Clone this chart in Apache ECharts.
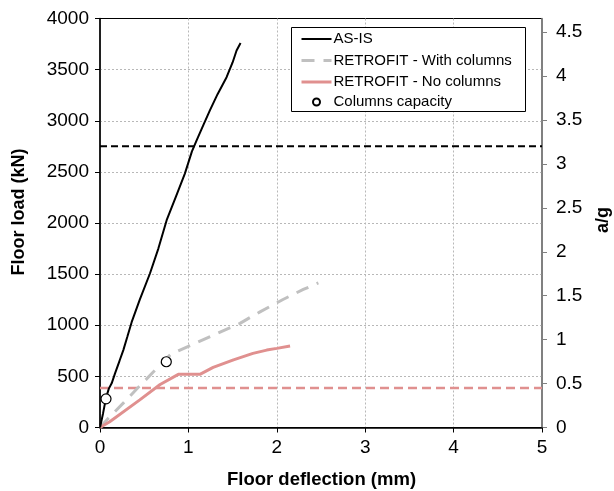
<!DOCTYPE html>
<html>
<head>
<meta charset="utf-8">
<script src="https://cdn.jsdelivr.net/npm/echarts@6/dist/echarts.min.js"></script>
<style>
  html, body { margin: 0; padding: 0; background: #fff; }
  #chart { width: 614px; height: 491px; }
</style>
</head>
<body>
<div id="chart"></div>
<script>
// Floor deflection (mm) vs floor load (kN)
const asIsDeflection = [0, 0.035, 0.068, 0.10, 0.132, 0.17, 0.22, 0.264, 0.31, 0.358, 0.45, 0.565, 0.66, 0.754, 0.86, 0.96, 1.04, 1.093, 1.17, 1.243, 1.33, 1.432, 1.50, 1.545, 1.59];
const asIsLoad = [0, 140, 290, 380, 432, 530, 650, 757, 890, 1030, 1250, 1506, 1750, 2027, 2260, 2483, 2700, 2808, 2960, 3101, 3260, 3426, 3570, 3687, 3760];

const withColumnsDeflection = [0, 0.094, 0.26, 0.415, 0.6, 0.8, 0.905, 1.056, 1.3, 1.584, 1.68, 1.81, 2.07, 2.3, 2.47];
const withColumnsLoad = [0, 90, 236, 376, 540, 715, 757, 816, 910, 1018, 1067, 1131, 1252, 1350, 1414];

const noColumnsDeflection = [0, 0.11, 0.45, 0.68, 0.886, 1.13, 1.28, 1.51, 1.73, 1.886, 2.0, 2.15];
const noColumnsLoad = [0, 57, 270, 420, 520, 520, 588, 662, 725, 757, 774, 798];

const capacityDeflection = [0.068, 0.75];
const capacityLoad = [280, 643];

// Acceleration levels (a/g) drawn against the right axis
const asIsAccel = 3.2;
const retrofitAccel = 0.45;
const accelSpan = [0, 5];

// Right axis shares the load scale: 2750 kN corresponds to 3.2 g
const loadMax = 4000;
const accelMax = loadMax * asIsAccel / 2750;

const lineNames = ['AS-IS', 'RETROFIT - With columns', 'RETROFIT - No columns'];
const pointName = 'Columns capacity';

const pairs = (xs, ys) => xs.map((x, i) => [x, ys[i]]);
const FONT = '"Liberation Sans", Arial, sans-serif';
const legendText = { fontFamily: FONT, fontSize: 15, color: '#000', padding: [0, 0, 0, -3] };

const lineStyles = [
  { color: '#000', width: 2 },
  { color: '#c0c0c0', width: 3, type: [13, 9] },
  { color: '#e0908f', width: 3 }
];
const gridLine = { color: '#b8b8b8', type: [2, 2], width: 1 };

const chart = echarts.init(document.getElementById('chart'));
chart.setOption({
  animation: false,
  textStyle: { fontFamily: FONT, color: '#000' },
  grid: {
    left: 100, right: 72, top: 18.5, bottom: 63.5,
    show: true, borderColor: '#000', borderWidth: 1
  },
  legend: [
    {
      orient: 'vertical', left: 300, top: 31.5, padding: 0,
      itemWidth: 30, itemHeight: 14, itemGap: 6.5, z: 10,
      textStyle: legendText,
      data: lineNames.map((n, i) => ({
        name: n,
        itemStyle: { opacity: 0 },
        lineStyle: { width: lineStyles[i].width }
      }))
    },
    {
      orient: 'vertical', left: 312, top: 94.5, padding: 0,
      itemWidth: 30, itemHeight: 7, z: 10,
      textStyle: legendText,
      data: [pointName]
    }
  ],
  xAxis: {
    type: 'value', min: 0, max: 5, interval: 1,
    axisLine: { onZero: false, lineStyle: { color: '#000', width: 1.5 } },
    axisTick: { show: true, length: 5, lineStyle: { color: '#000' } },
    axisLabel: { fontSize: 19, color: '#000', margin: 11, fontFamily: FONT },
    splitLine: { show: true, showMinLine: false, showMaxLine: false, lineStyle: gridLine }
  },
  yAxis: [
    {
      type: 'value', min: 0, max: loadMax, interval: 500, position: 'left',
      axisLine: { show: true, onZero: false, lineStyle: { color: '#000', width: 1.5 } },
      axisTick: { show: true, length: 5, lineStyle: { color: '#000' } },
      axisLabel: { fontSize: 19, color: '#000', margin: 11, fontFamily: FONT, formatter: v => String(v) },
      splitLine: { show: true, showMinLine: false, showMaxLine: false, lineStyle: gridLine }
    },
    {
      type: 'value', min: 0, max: accelMax, interval: 0.5, position: 'right',
      axisLine: { show: true, onZero: false, lineStyle: { color: '#808080', width: 1.5 } },
      axisTick: { show: true, length: 5, lineStyle: { color: '#808080' } },
      axisLabel: {
        fontSize: 19, color: '#000', margin: 14, fontFamily: FONT,
        showMaxLabel: false,
        formatter: v => (Math.abs(v / 0.5 - Math.round(v / 0.5)) < 1e-6 ? String(v) : '')
      },
      splitLine: { show: false }
    }
  ],
  graphic: [
    {
      type: 'rect', z: 5,
      shape: { x: 291.5, y: 27.5, width: 234, height: 84 },
      style: { fill: '#fff', stroke: '#000', lineWidth: 1 }
    },
    {
      type: 'text', x: 19, y: 212, rotation: Math.PI / 2,
      style: { text: 'Floor load (kN)', font: 'bold 18px ' + FONT, fill: '#000', textAlign: 'center', textVerticalAlign: 'middle' }
    },
    {
      type: 'text', x: 603, y: 220, rotation: Math.PI / 2,
      style: { text: 'a/g', font: 'bold 18px ' + FONT, fill: '#000', textAlign: 'center', textVerticalAlign: 'middle' }
    },
    {
      type: 'text', x: 321.5, y: 480,
      style: { text: 'Floor deflection (mm)', font: 'bold 18.5px ' + FONT, fill: '#000', textAlign: 'center', textVerticalAlign: 'middle' }
    }
  ],
  series: [
    {
      name: 'AS-IS level', type: 'line', yAxisIndex: 1, showSymbol: false, silent: true,
      data: accelSpan.map(x => [x, asIsAccel]),
      lineStyle: { color: '#000', width: 2, type: [7, 4] }, z: 1
    },
    {
      name: 'RETROFIT level', type: 'line', yAxisIndex: 1, showSymbol: false, silent: true,
      data: accelSpan.map(x => [x, retrofitAccel]),
      lineStyle: { color: '#e0908f', width: 2.5, type: [9, 5] }, z: 1
    },
    {
      name: lineNames[1], type: 'line', showSymbol: false,
      data: pairs(withColumnsDeflection, withColumnsLoad),
      lineStyle: lineStyles[1],
      itemStyle: { color: lineStyles[1].color }, z: 2
    },
    {
      name: lineNames[2], type: 'line', showSymbol: false,
      data: pairs(noColumnsDeflection, noColumnsLoad),
      lineStyle: lineStyles[2],
      itemStyle: { color: lineStyles[2].color }, z: 3
    },
    {
      name: lineNames[0], type: 'line', showSymbol: false,
      data: pairs(asIsDeflection, asIsLoad),
      lineStyle: lineStyles[0],
      itemStyle: { color: lineStyles[0].color }, z: 4
    },
    {
      name: pointName, type: 'scatter', symbol: 'circle', symbolSize: 10,
      data: pairs(capacityDeflection, capacityLoad),
      itemStyle: { color: '#fff', borderColor: '#000', borderWidth: 1.2, opacity: 1 }, z: 5
    }
  ]
});
</script>
</body>
</html>
